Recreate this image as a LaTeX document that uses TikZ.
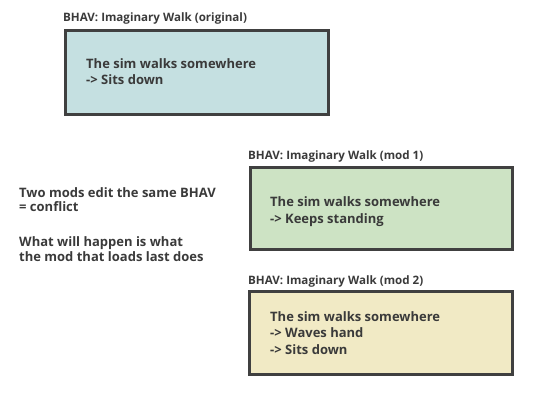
\documentclass[tikz,border=0pt]{standalone}
\usepackage{fontspec}
\setmainfont{Open Sans}
\usepackage{tikz}
\usetikzlibrary{positioning}
\usepackage{xcolor}
\definecolor{InkGray}{HTML}{3A3A3A}
\definecolor{EdgeGray}{HTML}{404040}
\definecolor{OrigTeal}{HTML}{C5E0E1}
\definecolor{ModGreen}{HTML}{CDE3C4}
\definecolor{ModBeige}{HTML}{F1EAC5}

\begin{document}
\begin{tikzpicture}[x=1pt, y=-1pt,
    every node/.style={text=InkGray, inner sep=0pt},
    bhav/.style={draw=EdgeGray, line width=3pt, rectangle},
    bhavtext/.style={anchor=base west, align=left,
                     font=\fontsize{13}{16.2}\selectfont\bfseries},
    title/.style={anchor=base west, font=\fontsize{11.6}{14}\selectfont\bfseries}]
        \useasboundingbox (0,0) rectangle (540,400);

        % the three BHAV boxes
        \node[bhav, fill=OrigTeal, minimum width=263pt, minimum height=84pt]
              (orig) at (197,72) {};
        \node[bhav, fill=ModGreen, minimum width=262pt, minimum height=82pt]
              (modA) at (381.5,208.5) {};
        \node[bhav, fill=ModBeige, minimum width=263pt, minimum height=83pt]
              (modB) at (381,333) {};

        \node[bhavtext] (origTxt) at ([xshift=22pt, yshift=-55.8pt]orig.north west)
              {The sim walks somewhere\\-> Sits down};
        \node[bhavtext] (modATxt) at ([xshift=21pt, yshift=-57pt]modA.north west)
              {The sim walks somewhere\\-> Keeps standing};
        \node[bhavtext] (modBTxt) at ([xshift=22pt, yshift=-64pt]modB.north west)
              {The sim walks somewhere\\-> Waves hand\\-> Sits down};

        \node[title] (origT) at ([xshift=-1pt, yshift=7pt]orig.north west)
              {BHAV: Imaginary Walk (original)};
        \node[title] (modAT) at ([xshift=-1pt, yshift=7pt]modA.north west)
              {BHAV: Imaginary Walk (mod 1)};
        \node[title] (modBT) at ([xshift=0pt, yshift=6pt]modB.north west)
              {BHAV: Imaginary Walk (mod 2)};

        \node[anchor=base west, align=left,
              font=\fontsize{13}{14.8}\selectfont\bfseries] (note) at (19,261)
              {Two mods edit the same BHAV\\= conflict\\[19.5pt]
               What will happen is what\\the mod that loads last does};
      \end{tikzpicture}
\end{document}
